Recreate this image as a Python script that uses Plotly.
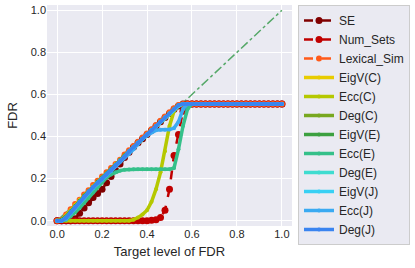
import plotly.graph_objects as go

# Target FDR levels (x grid of the rising part), then the flat part
target = [0.00, 0.02, 0.04, 0.06, 0.08, 0.10, 0.12, 0.14, 0.16, 0.18,
          0.20, 0.22, 0.24, 0.26, 0.28, 0.30, 0.32, 0.34, 0.36, 0.38,
          0.40, 0.42, 0.44, 0.46, 0.48, 0.50, 0.52, 0.54, 0.56, 0.58,
          0.60, 0.62, 0.64, 0.66, 0.68, 0.70, 0.72, 0.74, 0.76, 0.78,
          0.80, 0.82, 0.84, 0.86, 0.88, 0.90, 0.92, 0.94, 0.96, 0.98, 1.00]

plateau = [0.555] * 21  # observed FDR for target >= 0.60

se = [0.0, 0.0, 0.0, 0.0, 0.01, 0.035, 0.06, 0.085, 0.11, 0.13,
      0.15, 0.18, 0.21, 0.24, 0.27, 0.30, 0.325, 0.35, 0.37, 0.39,
      0.41, 0.43, 0.45, 0.47, 0.49, 0.51, 0.53, 0.545, 0.555, 0.555] + plateau
num_sets = [0.0, 0.0, 0.0, 0.0, 0.0, 0.0, 0.0, 0.0, 0.0, 0.0,
            0.0, 0.0, 0.0, 0.0, 0.0, 0.0, 0.0, 0.0, 0.0, 0.0,
            0.0, 0.002, 0.005, 0.015, 0.05, 0.15, 0.31, 0.41, 0.52, 0.555] + plateau
lexical_sim = [0.0, 0.005, 0.03, 0.055, 0.08, 0.10, 0.125, 0.145, 0.17, 0.19,
               0.21, 0.23, 0.25, 0.27, 0.29, 0.315, 0.335, 0.355, 0.375, 0.395,
               0.415, 0.435, 0.455, 0.475, 0.495, 0.515, 0.535, 0.55, 0.555, 0.555] + plateau
eigv_c = [0.0, 0.005, 0.025, 0.05, 0.075, 0.10, 0.12, 0.14, 0.165, 0.185,
          0.205, 0.225, 0.245, 0.27, 0.29, 0.31, 0.33, 0.35, 0.37, 0.39,
          0.41, 0.43, 0.45, 0.47, 0.49, 0.51, 0.53, 0.55, 0.555, 0.555] + plateau
ecc_c = [0.0, 0.0, 0.0, 0.0, 0.0, 0.0, 0.0, 0.0, 0.0, 0.0,
         0.0, 0.0, 0.0, 0.0, 0.0, 0.0, 0.0, 0.005, 0.015, 0.03,
         0.05, 0.09, 0.15, 0.23, 0.33, 0.45, 0.52, 0.55, 0.555, 0.555] + plateau
deg_c = [0.0, 0.0, 0.015, 0.04, 0.065, 0.09, 0.115, 0.135, 0.16, 0.18,
         0.20, 0.22, 0.245, 0.265, 0.285, 0.31, 0.33, 0.35, 0.37, 0.39,
         0.41, 0.43, 0.45, 0.47, 0.49, 0.51, 0.53, 0.545, 0.555, 0.555] + plateau
eigv_e = [0.0, 0.005, 0.02, 0.045, 0.07, 0.095, 0.12, 0.14, 0.16, 0.185,
          0.205, 0.225, 0.245, 0.265, 0.29, 0.31, 0.33, 0.35, 0.37, 0.39,
          0.41, 0.43, 0.45, 0.47, 0.49, 0.51, 0.53, 0.55, 0.555, 0.555] + plateau
ecc_e = [0.0, 0.0, 0.005, 0.02, 0.04, 0.06, 0.085, 0.11, 0.135, 0.16,
         0.185, 0.205, 0.22, 0.23, 0.238, 0.242, 0.244, 0.245, 0.245, 0.245,
         0.245, 0.245, 0.245, 0.245, 0.245, 0.245, 0.25, 0.34, 0.45, 0.53] + plateau
deg_e = [0.0, 0.0, 0.01, 0.035, 0.06, 0.085, 0.11, 0.135, 0.16, 0.18,
         0.20, 0.22, 0.24, 0.265, 0.285, 0.305, 0.33, 0.35, 0.37, 0.39,
         0.41, 0.43, 0.45, 0.47, 0.49, 0.51, 0.53, 0.545, 0.555, 0.555] + plateau
eigv_j = [0.0, 0.0, 0.015, 0.04, 0.065, 0.09, 0.11, 0.135, 0.155, 0.18,
          0.20, 0.22, 0.24, 0.26, 0.285, 0.305, 0.325, 0.345, 0.37, 0.39,
          0.41, 0.43, 0.45, 0.47, 0.49, 0.51, 0.53, 0.545, 0.555, 0.555] + plateau
ecc_j = [0.0, 0.0, 0.01, 0.035, 0.06, 0.085, 0.11, 0.13, 0.155, 0.175,
         0.195, 0.215, 0.235, 0.26, 0.28, 0.30, 0.32, 0.34, 0.365, 0.39,
         0.405, 0.42, 0.43, 0.432, 0.432, 0.433, 0.44, 0.47, 0.53, 0.555] + plateau
deg_j = [0.0, 0.0, 0.015, 0.04, 0.065, 0.09, 0.115, 0.14, 0.16, 0.18,
         0.20, 0.22, 0.24, 0.265, 0.285, 0.305, 0.33, 0.35, 0.37, 0.39,
         0.41, 0.43, 0.45, 0.47, 0.49, 0.51, 0.53, 0.55, 0.555, 0.555] + plateau

diag_x = [0.0, 1.0]
diag_y = [0.0, 1.0]

names = ["SE", "Num_Sets", "Lexical_Sim", "EigV(C)", "Ecc(C)", "Deg(C)",
         "EigV(E)", "Ecc(E)", "Deg(E)", "EigV(J)", "Ecc(J)", "Deg(J)"]
series = [se, num_sets, lexical_sim, eigv_c, ecc_c, deg_c,
          eigv_e, ecc_e, deg_e, eigv_j, ecc_j, deg_j]
colors = ["#800000", "#c00000", "#ff5a1a", "#e8cc00", "#b5c800", "#78a820",
          "#3ca040", "#35c08a", "#3fdcd0", "#38d0f4", "#3aaaf2", "#3a84f0"]

fig = go.Figure()
fig.add_trace(go.Scatter(x=diag_x, y=diag_y, mode="lines", showlegend=False,
                         line=dict(color="#55a868", width=1.5, dash="dashdot")))
for i, (n, s, c) in enumerate(zip(names, series, colors)):
    if i < 3:
        fig.add_trace(go.Scatter(x=target, y=s, name=n, mode="lines+markers",
                                 line=dict(color=c, width=2.5, dash="dash"),
                                 marker=dict(color=c, size=7 if i < 2 else 6)))
    else:
        fig.add_trace(go.Scatter(x=target, y=s, name=n, mode="lines+markers",
                                 line=dict(color=c, width=3.5),
                                 marker=dict(color=c, size=4)))

font = "Liberation Sans, Arial, sans-serif"
fig.update_layout(
    width=415, height=268,
    margin=dict(l=47, r=123, t=5, b=42, autoexpand=False),
    paper_bgcolor="white", plot_bgcolor="#eaeaf2",
    font=dict(family=font, color="#262626", size=11),
    legend=dict(x=1.0245, xanchor="left", y=1.0, yanchor="top",
                font=dict(size=12, color="#262626"),
                bgcolor="#eaeaf2", bordercolor="#cccccc", borderwidth=1,
                itemwidth=30, tracegroupgap=0, maxheight=262),
    xaxis=dict(range=[-0.045, 1.045], tickvals=[0, 0.2, 0.4, 0.6, 0.8, 1.0],
               tickformat=".1f", showgrid=True, gridcolor="white", gridwidth=1,
               zeroline=False, showline=False, ticks="", automargin=False,
               title=dict(text="Target level of FDR", font=dict(size=13), standoff=7),
               tickfont=dict(size=11)),
    yaxis=dict(range=[-0.025, 1.025], tickvals=[0, 0.2, 0.4, 0.6, 0.8, 1.0],
               tickformat=".1f", showgrid=True, gridcolor="white", gridwidth=1,
               zeroline=False, showline=False, ticks="", automargin=False,
               title=dict(text="FDR", font=dict(size=13), standoff=10),
               tickfont=dict(size=11)),
)

fig.write_html("out.html", config={"displayModeBar": False},
               post_script="document.body.style.margin='0';document.body.style.overflow='hidden';")
